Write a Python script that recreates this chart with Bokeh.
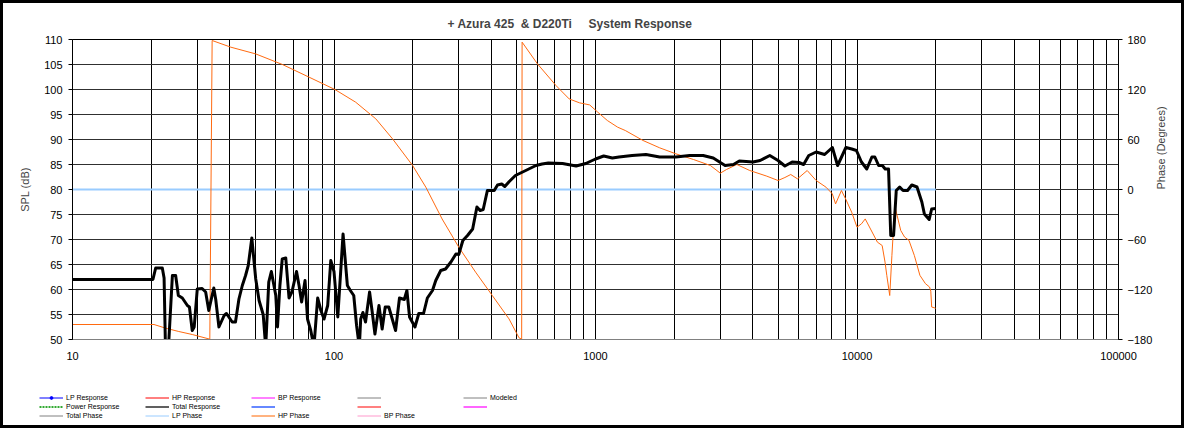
import math
from bokeh.plotting import figure
from bokeh.layouts import column
from bokeh.models import (Range1d, LinearAxis, FixedTicker, Legend, LegendItem,
                          PrintfTickFormatter)
from bokeh.embed import file_html
from bokeh.resources import INLINE

# ---------------- data ----------------
title_text = "+ Azura 425 \u00a0& D220Ti \u00a0\u00a0\u00a0\u00a0System Response"

x_major_ticks = [10, 100, 1000, 10000, 100000]
x_minor_ticks = [20, 30, 40, 50, 60, 70, 80, 90,
                 200, 300, 400, 500, 600, 700, 800, 900,
                 2000, 3000, 4000, 5000, 6000, 7000, 8000, 9000,
                 20000, 30000, 40000, 50000, 60000, 70000, 80000, 90000]
spl_ticks = [50, 55, 60, 65, 70, 75, 80, 85, 90, 95, 100, 105, 110]
phase_ticks = [-180, -120, -60, 0, 60, 120, 180]

# Total Response (SPL, dB)
tr_freq = [10, 20.3, 20.8, 22.05, 22.4, 22.7, 23.2, 24.1, 24.8, 25.4, 26.3, 27.5, 28.0,
           28.7, 29.2, 30.0, 31.3, 32.3, 33.2, 34.7, 35.3, 36.3, 38.0, 38.8, 40.8,
           42.0, 43.3, 44.6, 45.9, 47.0, 48.5, 50.2, 51.7, 53.6, 54.8, 56.3, 57.6,
           59.9, 60.8, 62.1, 63.4, 65.4, 67.3, 69.1, 71.9, 73.5, 75.2, 77.5, 79.2,
           81.5, 83.8, 86.6, 89.1, 91.6, 94.6, 97.2, 100.0, 103.4, 108.3, 112.5, 115.5,
           119.0, 122.0, 125.0, 126.5, 129.0, 132.0, 136.8, 140.0, 143.4, 148.6, 152.8,
           157.0, 162.0, 167.0, 172.0, 178.0, 185.7, 190.0, 194.5, 204.0, 211.0, 220.0,
           227.5, 238.0, 245.0, 256.0, 267.0, 280.0, 292.6, 300.0, 311.0, 324.0, 339.0,
           352.0, 362.0, 372.0, 386.0, 410.0, 422.0, 438.0, 450.0, 468.0, 494.0, 541.0,
           592.0, 625.0, 660.0, 748.0, 843.0, 918.0, 1000.0, 1075.0, 1160.0, 1230.0,
           1380.0, 1560.0, 1760.0, 2030.0, 2290.0, 2580.0, 2820.0, 3130.0, 3370.0,
           3548.0, 4000.0, 4260.0, 4640.0, 4990.0, 5300.0, 5650.0, 6000.0, 6250.0,
           6540.0, 6980.0, 7520.0, 8050.0, 8430.0, 9070.0, 9550.0, 9950.0, 10400.0,
           10900.0, 11400.0, 11700.0, 12100.0, 12500.0, 12820.0, 13200.0, 13460.0,
           13800.0, 14130.0, 14560.0, 15000.0, 15600.0, 16200.0, 16960.0, 17700.0,
           18100.0, 18880.0, 19300.0, 20000.0]
tr_db = [62.0, 62.0, 64.3, 64.3, 62.3, 47.0, 47.0, 62.8, 62.8, 58.8, 58.3, 56.8, 56.5,
         51.8, 52.5, 60.1, 60.2, 59.5, 55.8, 60.3, 58.0, 52.5, 54.8, 55.2, 53.5,
         53.5, 58.1, 60.8, 62.8, 64.8, 70.3, 62.1, 57.8, 55.0, 48.5, 61.5, 63.6,
         58.8, 52.5, 60.8, 66.1, 66.3, 58.3, 59.6, 63.6, 60.8, 57.5, 61.8, 54.1,
         51.8, 48.5, 58.3, 55.8, 54.1, 56.8, 65.8, 63.6, 54.5, 71.1, 60.8, 59.8,
         58.8, 52.8, 48.5, 54.1, 55.4, 53.5, 59.5, 55.5, 51.1, 56.8, 52.1,
         56.5, 56.5, 54.1, 51.8, 58.3, 58.0, 59.8, 54.5, 52.5, 55.2, 55.2,
         58.3, 59.8, 61.8, 63.8, 64.1, 65.5, 67.1, 67.0, 69.8, 70.8, 72.1,
         76.5, 75.8, 76.0, 79.8, 79.8, 80.9, 81.1, 80.6, 81.6, 82.8, 83.8,
         84.8, 85.1, 85.3, 85.2, 84.7, 85.2, 86.1, 86.7, 86.3, 86.5,
         86.8, 87.0, 86.5, 86.5, 86.8, 86.8, 86.3, 84.8, 85.0,
         85.7, 85.5, 85.8, 86.8, 85.8, 84.7, 85.5, 85.4, 85.0,
         86.8, 87.5, 87.0, 88.4, 84.8, 88.4, 88.1, 87.8, 85.5,
         84.1, 86.5, 86.5, 84.8, 84.8, 84.1, 84.1, 70.8,
         70.8, 79.8, 80.5, 79.8, 79.8, 80.9, 80.5, 77.5,
         75.1, 74.0, 76.1, 76.2]

# HP Phase (degrees)
hp_freq = [10, 20.5, 22.7, 25.5, 28.7, 33.5, 34.2, 40.3, 50.2, 63.5, 80.3, 100.8, 121.0,
           144.5, 167.5, 199.8, 224.5, 259.0, 300.0, 348.0, 403.0, 467.0, 510.0, 522.0,
           524.0, 600.0, 706.0, 793.0, 869.0, 950.0, 1020.0, 1110.0, 1215.0, 1300.0,
           1520.0, 1760.0, 2030.0, 2370.0, 2750.0, 3000.0, 3170.0, 3470.0, 3890.0,
           4520.0, 4990.0, 5300.0, 5580.0, 5920.0, 6450.0, 6980.0, 7610.0, 8050.0,
           8280.0, 8720.0, 9070.0, 9540.0, 10000.0, 10400.0, 10750.0, 11160.0, 11970.0,
           12480.0, 12800.0, 13000.0, 13340.0, 13600.0, 13950.0, 14130.0, 14700.0,
           15200.0, 15800.0, 16570.0, 17400.0, 18270.0, 18940.0, 19150.0, 19300.0,
           20000.0]
hp_deg = [-162.0, -162.0, -166.4, -170.4, -174.0, -179.6, 178.8, 170.8, 162.7, 150.0,
          134.8, 120.0, 104.8, 84.8, 60.7, 28.8, 2.8, -35.3, -69.2, -99.2, -127.2,
          -155.3, -178.0, -179.6, 176.8, 150.7, 124.8, 108.7, 104.0, 101.5, 92.8, 82.8,
          74.8, 70.8, 58.8, 50.0, 42.8, 36.0, 28.8, 19.6, 24.0, 30.0, 22.8, 16.0, 10.8,
          14.4, 18.0, 12.8, 22.8, 10.8, 2.8, -5.3, -17.3, -1.2, -12.0, -27.2, -45.2,
          -41.2, -35.3, -45.0, -63.2, -67.2, -87.2, -103.0, -127.2, -79.0, -19.2, -27.0,
          -49.2, -57.0, -61.0, -79.2, -103.0, -113.0, -117.0, -122.0, -141.0, -142.5]

# LP Phase (degrees)
lp_freq = [10, 20000]
lp_deg = [0, 0]

legend_rows = [
    ["LP Response", "HP Response", "BP Response", " ", "Modeled"],
    ["Power Response", "Total Response", " ", " ", " "],
    ["Total Phase", "LP Phase", "HP Phase", "BP Phase"],
]

# ---------------- figure ----------------
FONT = "Liberation Sans"

p = figure(width=1178, height=384, x_axis_type="log",
           x_range=Range1d(10, 100000), y_range=Range1d(50, 110),
           output_backend="svg", toolbar_location=None,
           min_border_left=69, min_border_right=63,
           min_border_top=36, min_border_bottom=48,
           background_fill_color="white", border_fill_color="white")
p.outline_line_color = "black"
p.outline_line_width = 1

p.extra_y_ranges = {"phase": Range1d(-180, 180)}

# title
p.title.text = title_text
p.title.text_font = FONT
p.title.text_font_size = "12px"
p.title.text_font_style = "bold"
p.title.align = "left"
p.title.offset = 375
p.title.standoff = 18

# x axis
xax = p.xaxis[0]
xax.ticker = FixedTicker(ticks=x_major_ticks, minor_ticks=x_minor_ticks)
xax.formatter = PrintfTickFormatter(format="%d")
xax.major_tick_out = 0
xax.major_tick_in = 0
xax.minor_tick_out = 0
xax.minor_tick_in = 0
xax.axis_line_color = "#808080"
xax.major_label_standoff = 12
xax.major_label_text_font = FONT
xax.major_label_text_font_size = "11px"
xax.major_label_text_color = "black"

# left axis
yax = p.yaxis[0]
yax.ticker = FixedTicker(ticks=spl_ticks)
yax.axis_label = "SPL (dB)"
yax.axis_label_text_font = FONT
yax.axis_label_text_font_size = "11px"
yax.axis_label_text_font_style = "normal"
yax.axis_label_standoff = 10
yax.major_tick_out = 4
yax.major_tick_in = 0
yax.minor_tick_out = 0
yax.minor_tick_in = 0
yax.major_label_standoff = 6
yax.major_label_text_font = FONT
yax.major_label_text_font_size = "11px"
yax.major_label_text_color = "black"
yax.axis_line_color = "black"

# right axis
rax = LinearAxis(y_range_name="phase", ticker=FixedTicker(ticks=phase_ticks),
                 axis_label="Phase (Degrees)")
rax.axis_label_text_font = FONT
rax.axis_label_text_font_size = "11px"
rax.axis_label_text_font_style = "normal"
rax.axis_label_standoff = 6
try:
    rax.axis_label_orientation = math.pi / 2
except Exception:
    pass
rax.major_tick_out = 4
rax.major_tick_in = 0
rax.minor_tick_out = 0
rax.minor_tick_in = 0
rax.major_label_standoff = 5
rax.major_label_text_font = FONT
rax.major_label_text_font_size = "11px"
rax.major_label_text_color = "black"
rax.axis_line_color = "black"
p.add_layout(rax, "right")

# grids
p.xgrid.grid_line_color = "black"
p.xgrid.grid_line_width = 1
p.xgrid.minor_grid_line_color = "black"
p.xgrid.minor_grid_line_width = 1
p.ygrid.grid_line_color = "#303030"
p.ygrid.grid_line_width = 1

# data lines
lp_r = p.line(lp_freq, lp_deg, y_range_name="phase", line_color="#99ccff", line_width=2)
hp_r = p.line(hp_freq, hp_deg, y_range_name="phase", line_color="#ff6a10", line_width=1)
tr_r = p.line(tr_freq, tr_db, line_color="black", line_width=3, line_join="round")

# ---------------- legend strip ----------------
lf = figure(width=1178, height=38, x_range=Range1d(0, 1), y_range=Range1d(0, 1),
            output_backend="svg", toolbar_location=None,
            x_axis_location=None, y_axis_location=None,
            min_border_left=0, min_border_right=0, min_border_top=0, min_border_bottom=0,
            background_fill_color="white", border_fill_color="white")
lf.outline_line_color = None
lf.grid.visible = False
legend_x = -33
try:
    lf.frame_align = False
    legend_x = 36
except Exception:
    pass

NAN = float("nan")

def dummy(color, width=1, dash="solid"):
    return lf.line(x=[NAN], y=[NAN], line_color=color, line_width=width, line_dash=dash)

lp_resp = [dummy("#0000ff", 1), lf.scatter(x=[NAN], y=[NAN], size=3, color="#0000ff")]
legend_renderers = {
    "LP Response": lp_resp,
    "HP Response": [dummy("#ff0000", 1)],
    "BP Response": [dummy("#ff00ff", 1)],
    "Modeled": [dummy("#808080", 1)],
    "Power Response": [dummy("#33aa33", 2, "2 1")],
    "Total Response": [dummy("#606060", 2)],
    "Total Phase": [dummy("#808080", 1)],
    "LP Phase": [dummy("#99ccff", 1)],
    "HP Phase": [dummy("#ff6600", 1)],
    "BP Phase": [dummy("#ff99cc", 1)],
}
blank_colors = [["#808080"], ["#6688ff", "#ff8080", "#ff66ff"]]

items = []
for ri, row in enumerate(legend_rows):
    bi = 0
    for lab in row:
        if lab.strip():
            items.append(LegendItem(label=lab, renderers=legend_renderers[lab]))
        else:
            col = blank_colors[ri][bi]
            bi += 1
            items.append(LegendItem(label=" ", renderers=[dummy(col, 1 if ri == 0 else 2)]))

legend = Legend(items=items, location=(legend_x, 6), orientation="horizontal", ncols=5,
                glyph_width=24, glyph_height=7, label_height=7, label_width=77,
                label_standoff=3, spacing=2, padding=0, margin=0,
                label_text_font=FONT, label_text_font_size="7px",
                label_text_color="black",
                border_line_color=None, background_fill_alpha=0)
lf.add_layout(legend)

layout = column(p, lf, spacing=0, styles={"border": "3px solid black"})

open("out.html", "w").write(file_html(layout, INLINE))
